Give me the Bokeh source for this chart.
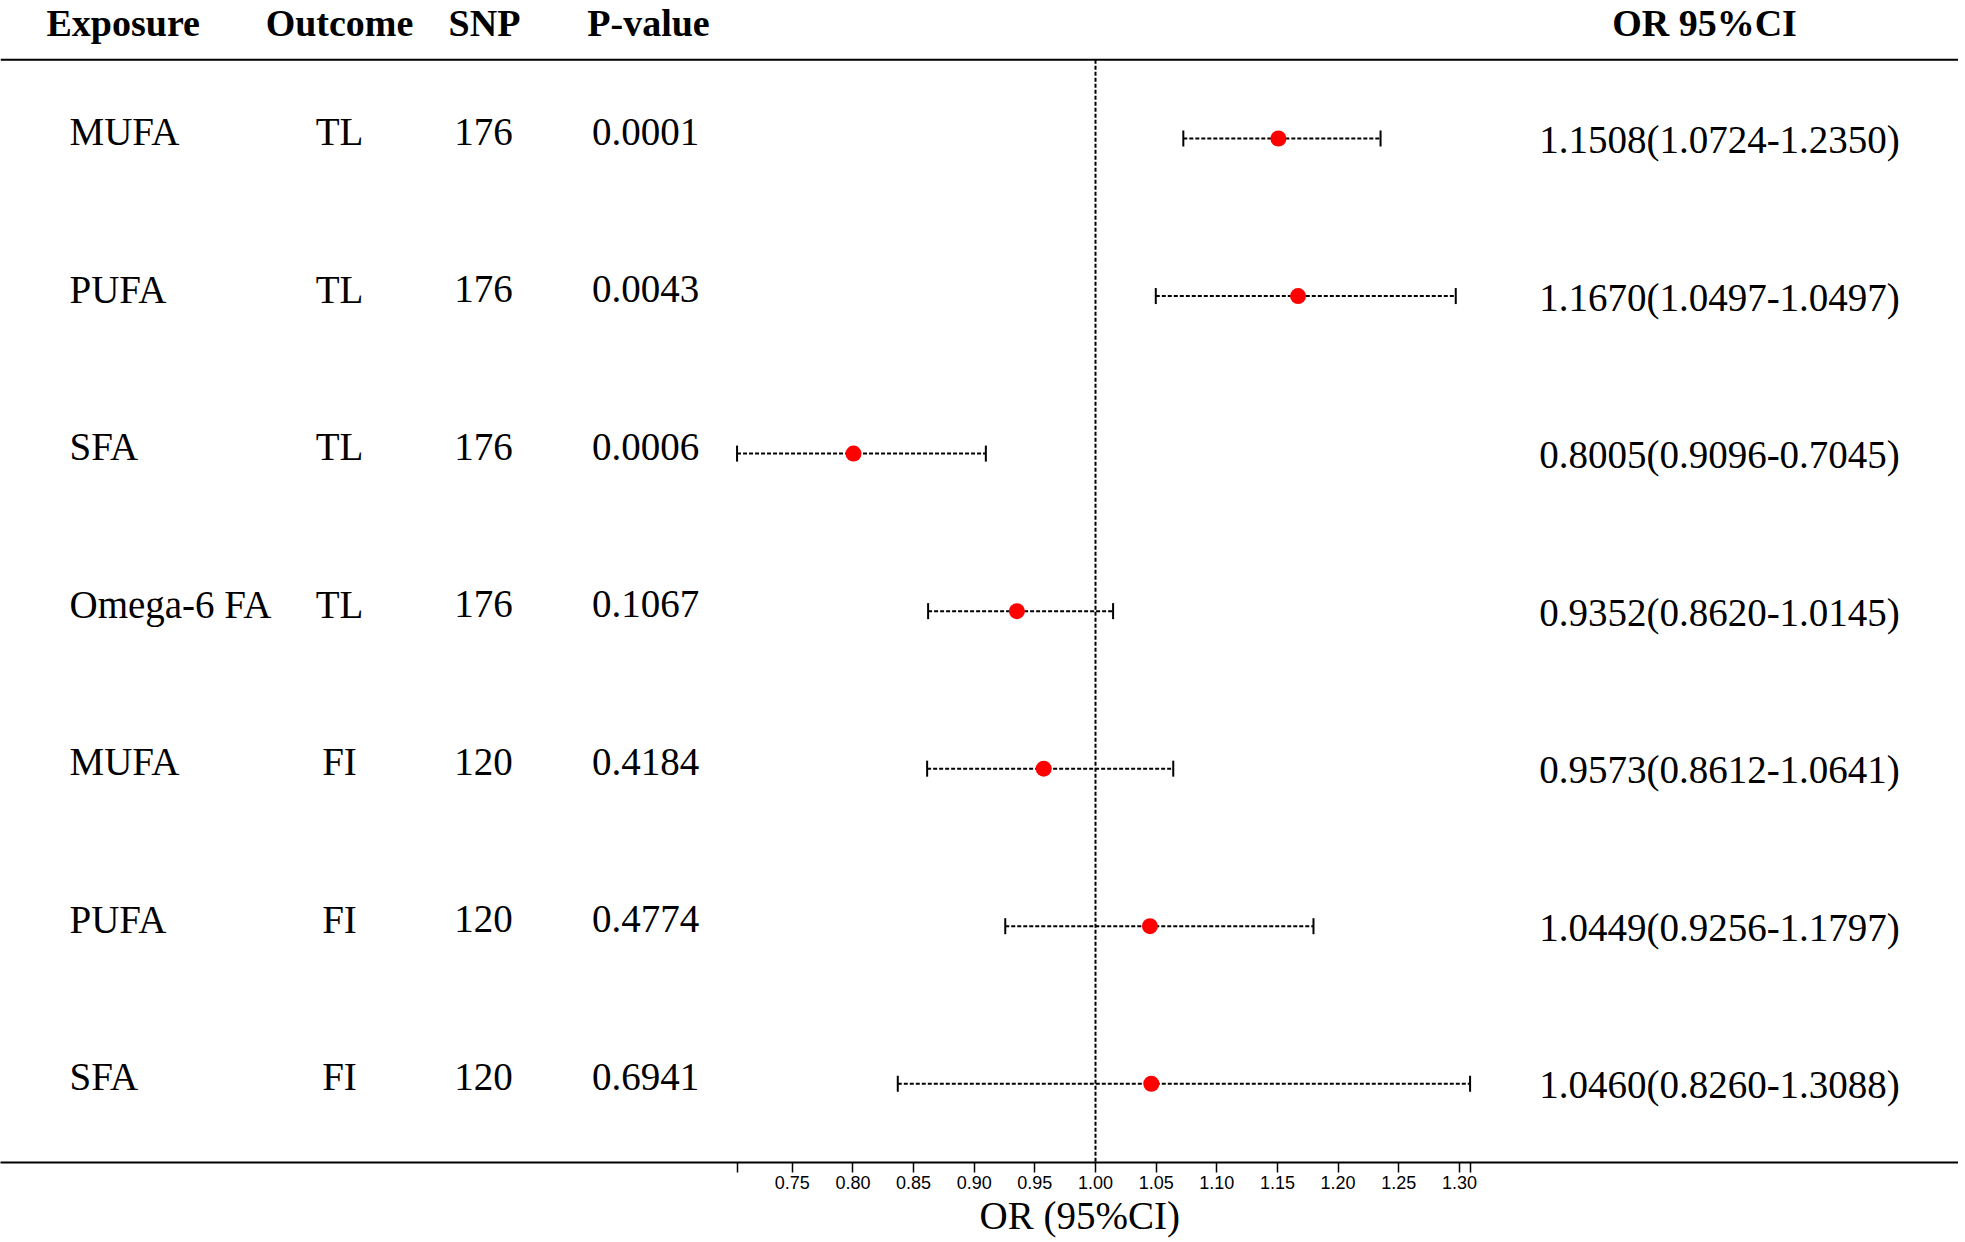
import math
from bokeh.plotting import figure
from bokeh.models import Range1d, FixedTicker, ColumnDataSource, Span, PrintfTickFormatter, Title
from bokeh.core.properties import value
from bokeh.embed import file_html
from bokeh.resources import INLINE

# ---------------- data ----------------
exposure = ["MUFA", "PUFA", "SFA", "Omega-6 FA", "MUFA", "PUFA", "SFA"]
outcome = ["TL", "TL", "TL", "TL", "FI", "FI", "FI"]
snp = ["176", "176", "176", "176", "120", "120", "120"]
p_values = ["0.0001", "0.0043", "0.0006", "0.1067", "0.4184", "0.4774", "0.6941"]
odds_ratio = [1.1508, 1.1670, 0.8005, 0.9352, 0.9573, 1.0449, 1.0460]
ci_lower = [1.0724, 1.0497, 0.7045, 0.8620, 0.8612, 0.9256, 0.8370]
ci_upper = [1.2350, 1.2970, 0.9096, 1.0145, 1.0641, 1.1797, 1.3088]
or_ci_text = ["1.1508(1.0724-1.2350)", "1.1670(1.0497-1.0497)", "0.8005(0.9096-0.7045)",
              "0.9352(0.8620-1.0145)", "0.9573(0.8612-1.0641)", "1.0449(0.9256-1.1797)",
              "1.0460(0.8260-1.3088)"]
headers = ["Exposure", "Outcome", "SNP", "P-value", "OR 95%CI"]
tick_values = [0.75, 0.80, 0.85, 0.90, 0.95, 1.00, 1.05, 1.10, 1.15, 1.20, 1.25, 1.30]
x_axis_title = "OR (95%CI)"
reference_or = 1.0

# ---------------- layout ----------------
W, H = 1958, 1238
SERIF = "Liberation Serif"
FS_HEAD = "38px"
FS_BODY = "39px"
rows = list(range(len(exposure)))
ROW_PX = 157.5
PX_PER_UNIT = 1213.0
X_REF_PX = 1095.0        # pixel of OR = 1.00
x_start = reference_or - X_REF_PX / PX_PER_UNIT
x_end = x_start + W / PX_PER_UNIT

src = ColumnDataSource(dict(
    row=rows,
    row_left=[r - 7 / ROW_PX for r in rows],
    row_right=[r + 1 / ROW_PX for r in rows],
    exposure=exposure, outcome=outcome, snp=snp, p=p_values,
    orv=odds_ratio, lo=ci_lower, hi=ci_upper, ortext=or_ci_text,
))

p = figure(width=W, height=H,
           x_range=Range1d(x_start, x_end), y_range=Range1d(6.5, -138 / ROW_PX),
           output_backend="svg", toolbar_location=None,
           min_border=0, min_border_bottom=H - 1162,
           y_axis_location=None, x_axis_location="below")
p.extra_x_ranges = {"tbl": Range1d(0, W)}
p.outline_line_color = None
p.grid.visible = False
p.background_fill_color = "white"
p.border_fill_color = "white"

# axis
ax = p.xaxis[0]
ax.ticker = FixedTicker(ticks=tick_values, minor_ticks=[min(ci_lower), max(ci_upper)])
ax.formatter = PrintfTickFormatter(format="%.2f")
ax.axis_line_width = 2
ax.axis_line_color = "black"
ax.major_tick_out = 10
ax.major_tick_in = 0
ax.minor_tick_out = 10
ax.minor_tick_in = 0
ax.major_tick_line_width = 1.5
ax.minor_tick_line_width = 1.5
ax.major_tick_line_color = "black"
ax.minor_tick_line_color = "black"
ax.major_label_standoff = 3
ax.major_label_text_font = "Liberation Sans"
ax.major_label_text_font_size = "18px"
ax.major_label_text_color = "black"

# x-axis title, placed under the OR column region (left-aligned with a pixel offset)
p.add_layout(Title(text=x_axis_title, align="left", offset=979,
                   text_font=SERIF, text_font_size=FS_BODY, text_font_style="normal",
                   text_color="black", standoff=0), "below")

# header
header_x = [46, 339, 484, 648, 1704]
header_align = ["left", "center", "center", "center", "center"]
p.text(x=header_x, y=[-0.733] * len(headers), text=headers, x_range_name="tbl",
       text_align=header_align, text_baseline="alphabetic",
       text_font=value(SERIF), text_font_style="bold", text_font_size=FS_HEAD, text_color="black")
p.add_layout(Span(location=-0.5, dimension="width", line_color="black", line_width=2))

# table columns
common = dict(source=src, x_range_name="tbl", text_baseline="alphabetic",
              text_font=value(SERIF), text_font_size=FS_BODY, text_color="black")
p.text(x=69, y="row_left", text="exposure", text_align="left", **common)
p.text(x=339, y="row_left", text="outcome", text_align="center", **common)
p.text(x=483, y="row_left", text="snp", text_align="center", **common)
p.text(x=645, y="row_left", text="p", text_align="center", **common)
p.text(x=1719, y="row_right", text="ortext", text_align="center", **common)

# reference line
p.segment(x0=[reference_or], y0=[-0.5], x1=[reference_or], y1=[6.5],
          line_color="black", line_width=2, line_dash="4 2")

# CI bars
p.segment(x0="lo", y0="row", x1="hi", y1="row", source=src,
          line_color="black", line_width=2, line_dash="4 2")
p.scatter(x="lo", y="row", source=src, marker="dash", size=16, angle=math.pi / 2,
          line_color="black", line_width=2)
p.scatter(x="hi", y="row", source=src, marker="dash", size=16, angle=math.pi / 2,
          line_color="black", line_width=2)
p.scatter(x="orv", y="row", source=src, marker="circle", size=16,
          fill_color="#ff0000", line_color=None)

open("out.html", "w").write(file_html(p, INLINE))
